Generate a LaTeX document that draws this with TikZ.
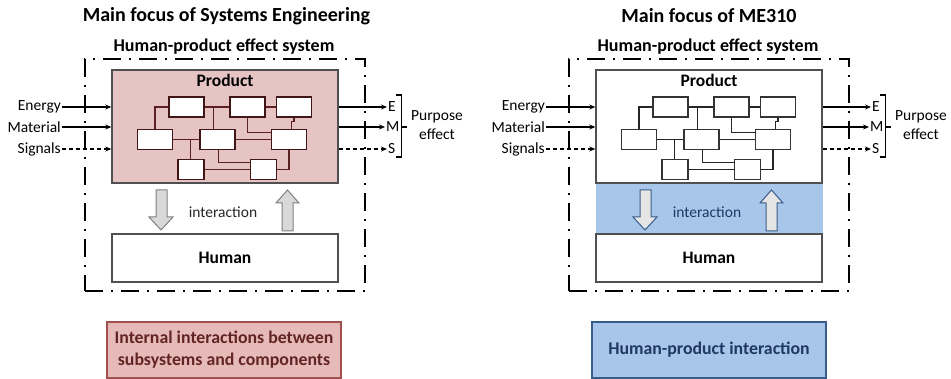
\documentclass[tikz,border=0pt]{standalone}
\usepackage{fontspec}
\setmainfont{Carlito}
\usetikzlibrary{arrows.meta}

\definecolor{prodpink}{RGB}{230,196,196}
\definecolor{wirebrown}{RGB}{92,32,32}
\definecolor{notepink}{RGB}{230,186,185}
\definecolor{noteredline}{RGB}{160,80,78}
\definecolor{noteredtext}{RGB}{99,37,35}
\definecolor{bandblue}{RGB}{168,197,234}
\definecolor{noteblueline}{RGB}{56,93,138}
\definecolor{noteblue}{RGB}{31,56,100}
\definecolor{frame}{RGB}{80,80,80}

\tikzset{
  outerbox/.style={draw=black, line width=2.2pt, dash pattern=on 18pt off 8pt on 2pt off 8pt},
  prodbox/.style={draw=frame, line width=1.4pt, fill=prodpink},
  humanbox/.style={draw=frame, line width=1.4pt, fill=white},
  part/.style={draw=wirebrown!70!black, line width=1.3pt, fill=white, minimum height=20pt},
  wire/.style={draw=wirebrown, line width=1.5pt},
  flow/.style={line width=1.2pt, -{Stealth[length=6pt,width=5pt]}},
  sigflow/.style={flow, dash pattern=on 4pt off 3pt},
  blockarrow/.style={draw=black!50, line width=1pt, fill=black!15},
  smalltext/.style={font=\fontsize{15.5}{19}\selectfont, inner sep=1pt},
  headtext/.style={font=\bfseries\fontsize{17.5}{20}\selectfont},
  systext/.style={font=\bfseries\fontsize{18}{21}\selectfont},
  titletext/.style={font=\bfseries\fontsize{20}{23}\selectfont},
  notetext/.style={font=\bfseries\fontsize{17.8}{22}\selectfont},
  interlabel/.style={smalltext, text=black!85},
}

% One human-product effect system, drawn with its node names prefixed by #1
\newcommand\effectsystem[1]{%
  % system boundary and its heading
  \node[outerbox, minimum width=280pt, minimum height=232pt] (#1sys) at (225,175) {};
  \node[systext] (#1syslabel) at (224,47) {Human-product effect system};
  % product with its internal structure
  \node[prodbox, minimum width=226pt, minimum height=113pt] (#1prod) at (225,126.5) {};
  \node[headtext] (#1prodlabel) at (225,80) {Product};
  \node[part, minimum width=35pt] (#1b1) at (186.5,107) {};
  \node[part, minimum width=35pt] (#1b2) at (247.5,107) {};
  \node[part, minimum width=35pt] (#1b3) at (294,107) {};
  \node[part, minimum width=35pt] (#1b4) at (155,139.3) {};
  \node[part, minimum width=35pt] (#1b5) at (217.5,139.3) {};
  \node[part, minimum width=35pt] (#1b6) at (289,139.3) {};
  \node[part, minimum width=26pt] (#1b7) at (191,169.3) {};
  \node[part, minimum width=26pt] (#1b8) at (263.5,169.3) {};
  \coordinate (#1j1) at (213.3,107);
  \coordinate (#1j2) at (190.7,139.3);
  \draw[wire] (#1b1.west) -| (#1b4.north);
  \draw[wire] (#1b1.east) -- (#1b2.west);
  \draw[wire] (#1b2.east) -- (#1b3.west);
  \draw[wire] (#1j1) -- (#1j1 |- #1b5.north);
  \draw[wire] (#1b2.south) |- ([yshift=6.6pt]#1b6.west);
  \draw[wire] (#1b3.south) -- ++(0,3.7) -| ([xshift=2.7pt]#1b6.north);
  \draw[wire] (#1b4.east) -- (#1b5.west);
  \draw[wire] (#1j2) -- (#1j2 |- #1b7.north);
  \draw[wire] (#1b5.east) -- (#1b6.west);
  \draw[wire] ([xshift=0.8pt]#1b5.south) |- ([yshift=7pt]#1b8.west);
  \draw[wire] (#1b7.east) -- (#1b8.west);
  \draw[wire] (#1b8.east) -| (#1b6.south);
  % inputs
  \node[smalltext, anchor=east] (#1energy) at (62,107) {Energy};
  \node[smalltext, anchor=east] (#1material) at (62,127) {Material};
  \node[smalltext, anchor=east] (#1signals) at (62,149) {Signals};
  \draw[flow] (#1energy.east) -- (#1energy.east -| #1prod.west);
  \draw[flow] (#1material.east) -- (#1material.east -| #1prod.west);
  \draw[sigflow] (#1signals.east) -- (#1signals.east -| #1prod.west);
  % outputs
  \node[smalltext, anchor=west] (#1E) at (387,107) {E};
  \node[smalltext, anchor=west] (#1M) at (385,127) {M};
  \node[smalltext, anchor=west] (#1S) at (387,149) {S};
  \draw[flow] (#1E.west -| #1prod.east) -- (#1E.west);
  \draw[flow] (#1M.west -| #1prod.east) -- (#1M.west);
  \draw[sigflow] (#1S.west -| #1prod.east) -- (#1S.west);
  \draw[line width=1.2pt] (396,95) -- (401.5,95) -- (401.5,157) -- (396,157)
    (401.5,127) -- (407,127);
  \node[smalltext, align=center] (#1purpose) at (437,125.5) {Purpose\\effect};
  % human and interaction
  \node[humanbox, minimum width=226pt, minimum height=48pt, headtext] (#1human) at (225,258) {Human};
  \draw[blockarrow] (156,190) -- (167,190) -- (167,217) -- (173,217) -- (161,230)
    -- (149,217) -- (156,217) -- cycle;
  \draw[blockarrow] (282,231) -- (293,231) -- (293,203) -- (299,203) -- (287.5,190)
    -- (276,203) -- (282,203) -- cycle;
  \node[interlabel] (#1inter) at (223,212) {interaction};
}

\begin{document}
\begin{tikzpicture}[x=1pt, y=-1pt]
  \useasboundingbox (0,0) rectangle (951,379);

  % left: systems engineering
  \node[titletext] (ltitle) at (226.5,16) {Main focus of Systems Engineering};
  \effectsystem{L}
  \node[draw=noteredline, line width=1.5pt, fill=notepink, text=noteredtext,
        align=center, minimum width=234pt, minimum height=56pt, notetext] (lnote) at (224,350)
        {Internal interactions between\\subsystems and components};

  % right: ME310
  \node[titletext] (rtitle) at (709,16) {Main focus of ME310};
  \begin{scope}[xshift=484pt,
      prodbox/.style={draw=frame, line width=1.4pt, fill=white},
      part/.style={draw=black!80, line width=1.3pt, fill=white, minimum height=20pt},
      wire/.style={draw=black!85, line width=1.5pt},
      blockarrow/.style={draw=noteblueline, line width=1pt, fill=black!10},
      interlabel/.style={smalltext, text=noteblue}]
    \fill[bandblue] (112,183.5) rectangle (339,233);
    \effectsystem{R}
  \end{scope}
  \node[draw=noteblueline, line width=1.5pt, fill=bandblue, text=noteblue,
        minimum width=234pt, minimum height=56pt, notetext] (rnote) at (709,350)
        {Human-product interaction};
\end{tikzpicture}
\end{document}
